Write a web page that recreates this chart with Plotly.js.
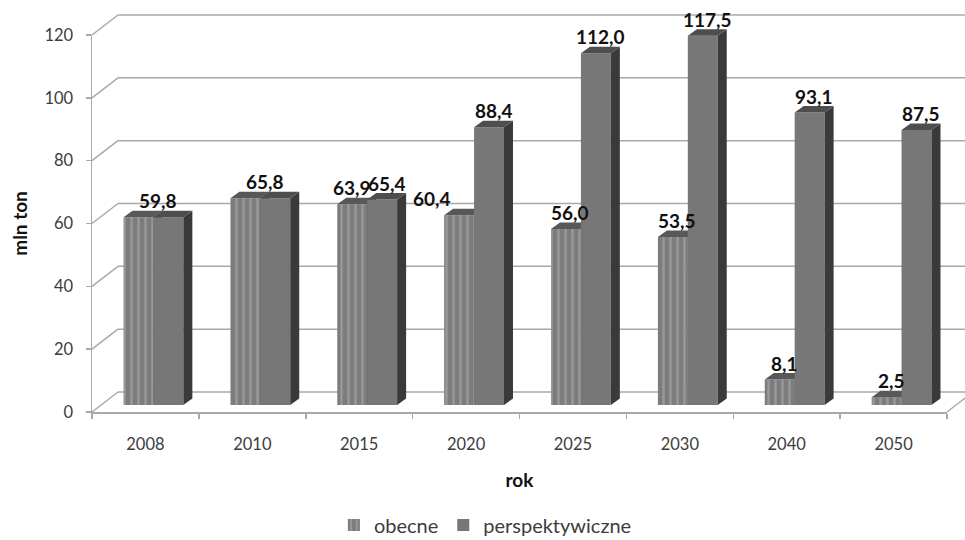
<!DOCTYPE html>
<html>
<head>
<meta charset="utf-8">
<script src="https://cdn.plot.ly/plotly-3.0.1.min.js"></script>
<style>
  html, body { margin: 0; padding: 0; background: #fff; }
  #chart { width: 965px; height: 540px; }
</style>
</head>
<body>
<div id="chart"></div>
<script>
// Categories and series (mln ton)
const years = ['2008', '2010', '2015', '2020', '2025', '2030', '2040', '2050'];
const obecne = [59.8, 65.8, 63.9, 60.4, 56.0, 53.5, 8.1, 2.5];
const perspektywiczne = [59.8, 65.8, 65.4, 88.4, 112.0, 117.5, 93.1, 87.5];
const yTicks = [0, 20, 40, 60, 80, 100, 120];
const seriesNames = ['obecne', 'perspektywiczne'];

// Page geometry in pixels
const M = { l: 92, r: 0, t: 15, b: 128 };
const W = 965 - M.l - M.r;       // plot area width
const H = 540 - M.t - M.b;       // plot area height
const FRONT_W = 855, FRONT_H = 377;   // front plane of the box
const WALL_DX = 26, WALL_DY = 20;     // back wall offset
const BAR_DX = 8, BAR_DY = 7;         // bar row offset into the box
const DEPTH_DX = 9, DEPTH_DY = 6.5;   // depth of each bar
const BAR_W = 0.28;                   // bar width, category units
const YMAX = 120;

const pxPerX = FRONT_W / years.length;
const pxPerY = FRONT_H / YMAX;
const ddx = DEPTH_DX / pxPerX;
const ddy = DEPTH_DY / pxPerY;
const idx = years.map((_, i) => i);

const fmt = v => v.toFixed(1).replace('.', ',');

// Top and side faces of the 3-D bars, built from the series values
function faces(vals, off) {
  const top = { x: [], y: [] }, side = { x: [], y: [] };
  vals.forEach((v, i) => {
    const x0 = i + off, x1 = x0 + BAR_W;
    top.x.push(x0, x1, x1 + ddx, x0 + ddx, x0, null);
    top.y.push(v, v, v + ddy, v + ddy, v, null);
    side.x.push(x1, x1, x1 + ddx, x1 + ddx, x1, null);
    side.y.push(0, v, v + ddy, ddy, 0, null);
  });
  return { top, side };
}

function faceTrace(pts, color, xa, ya) {
  return {
    type: 'scatter', mode: 'lines', x: pts.x, y: pts.y,
    fill: 'toself', fillcolor: color, line: { width: 0, color: color },
    xaxis: xa, yaxis: ya, hoverinfo: 'skip', showlegend: false
  };
}

const fObe = faces(obecne, -BAR_W);
const fPer = faces(perspektywiczne, 0);

const FONT = 'Lato, "Open Sans", "DejaVu Sans", sans-serif';

const data = [
  // front axis carrier (invisible)
  {
    type: 'scatter', mode: 'markers', x: years, y: obecne,
    marker: { opacity: 0 }, xaxis: 'x', yaxis: 'y',
    hoverinfo: 'skip', showlegend: false
  },
  {
    type: 'bar', name: seriesNames[0], x: idx, y: obecne,
    width: BAR_W, offset: -BAR_W, xaxis: 'x3', yaxis: 'y3',
    marker: {
      color: '#7c7c7c', line: { width: 0 },
      pattern: { shape: '|', size: 7, solidity: 0.35, fgcolor: '#989898', bgcolor: '#7c7c7c' }
    }
  },
  faceTrace(fObe.side, '#3a3a3a', 'x3', 'y3'),
  faceTrace(fObe.top, '#585858', 'x3', 'y3'),
  {
    type: 'bar', name: seriesNames[1], x: idx, y: perspektywiczne,
    width: BAR_W, offset: 0, xaxis: 'x4', yaxis: 'y4',
    marker: { color: '#777777', line: { width: 0 } }
  },
  faceTrace(fPer.side, '#3a3a3a', 'x4', 'y4'),
  faceTrace(fPer.top, '#4e4e4e', 'x4', 'y4')
];

// Value labels
const labelFont = { family: FONT, size: 19, color: '#111', weight: 'bold' };
const labelNudge = { '2-0': -5, '3-0': -32 };
const annotations = [];
years.forEach((y, i) => {
  const a = obecne[i], b = perspektywiczne[i];
  if (a === b) {
    annotations.push({
      xref: 'x4', yref: 'y4', x: i + ddx / 2, y: b, yanchor: 'bottom',
      text: '<b>' + fmt(b) + '</b>', showarrow: false, yshift: 3, font: labelFont
    });
  } else {
    annotations.push({
      xref: 'x3', yref: 'y3', x: i - BAR_W / 2 + ddx / 2, y: a, yanchor: 'bottom',
      text: '<b>' + fmt(a) + '</b>', showarrow: false, yshift: 3,
      xshift: labelNudge[i + '-0'] || 0, font: labelFont
    });
    annotations.push({
      xref: 'x4', yref: 'y4', x: i + BAR_W / 2 + ddx / 2, y: b, yanchor: 'bottom',
      text: '<b>' + fmt(b) + '</b>', showarrow: false, yshift: 3, font: labelFont
    });
  }
});

// Back wall gridlines, side-wall and floor edges of the box
const GRID = '#a9a9a9';
const gline = (x0, y0, x1, y1) => ({
  type: 'line', xref: 'paper', yref: 'paper', layer: 'below',
  x0: x0, y0: y0, x1: x1, y1: y1, line: { color: GRID, width: 1.5 }
});
const frontY = v => (v / YMAX) * FRONT_H / H;
const backY = v => (WALL_DY + (v / YMAX) * FRONT_H) / H;
const shapes = [];
yTicks.forEach(v => {
  shapes.push(gline(0, frontY(v), WALL_DX / W, backY(v)));
  shapes.push(gline(WALL_DX / W, backY(v), (FRONT_W + WALL_DX) / W, backY(v)));
});
shapes.push(gline(FRONT_W / W, 0, (FRONT_W + WALL_DX) / W, backY(0)));

const tickFont = { family: FONT, size: 16.5, color: '#3c3c3c' };
const hidden = { visible: false, range: [-0.5, years.length - 0.5] };

const layout = {
  width: 965, height: 540,
  margin: M,
  paper_bgcolor: '#ffffff', plot_bgcolor: 'rgba(0,0,0,0)',
  font: { family: FONT },
  showlegend: true,
  legend: {
    orientation: 'h', xref: 'container', yref: 'container',
    x: 0.503, y: 0.028, xanchor: 'center', yanchor: 'middle',
    font: { family: FONT, size: 20, color: '#3c3c3c' },
    itemclick: false
  },
  // front plane: axis lines, ticks, titles
  xaxis: {
    domain: [0, FRONT_W / W], anchor: 'y', type: 'category',
    categoryorder: 'array', categoryarray: years,
    range: [-0.5, years.length - 0.5],
    tickson: 'boundaries', ticks: 'outside', ticklen: 5, tickcolor: GRID, tickwidth: 1.5,
    showline: true, linecolor: GRID, linewidth: 1.5,
    showgrid: false, zeroline: false,
    tickfont: tickFont, ticklabelstandoff: 17,
    title: { text: '<b>rok</b>', font: { family: FONT, size: 19, color: '#111' }, standoff: 20 }
  },
  yaxis: {
    domain: [0, FRONT_H / H], anchor: 'x', range: [0, YMAX],
    tickvals: yTicks, ticks: 'outside', ticklen: 5, tickcolor: GRID, tickwidth: 1.5,
    showline: true, linecolor: GRID, linewidth: 1.5,
    showgrid: false, zeroline: false,
    tickfont: tickFont, ticklabelstandoff: 9,
    title: { text: '<b>mln ton</b>', font: { family: FONT, size: 19, color: '#111' }, standoff: 12 }
  },
  // bar row
  xaxis3: Object.assign({ domain: [BAR_DX / W, (BAR_DX + FRONT_W) / W], anchor: 'y3' }, hidden),
  yaxis3: { domain: [BAR_DY / H, (BAR_DY + FRONT_H) / H], anchor: 'x3', range: [0, YMAX], visible: false },
  xaxis4: Object.assign({ overlaying: 'x3', anchor: 'y4' }, hidden),
  yaxis4: { overlaying: 'y3', anchor: 'x4', range: [0, YMAX], visible: false },
  annotations: annotations,
  shapes: shapes
};

Plotly.newPlot('chart', data, layout, { displayModeBar: false, staticPlot: true });
</script>
</body>
</html>
